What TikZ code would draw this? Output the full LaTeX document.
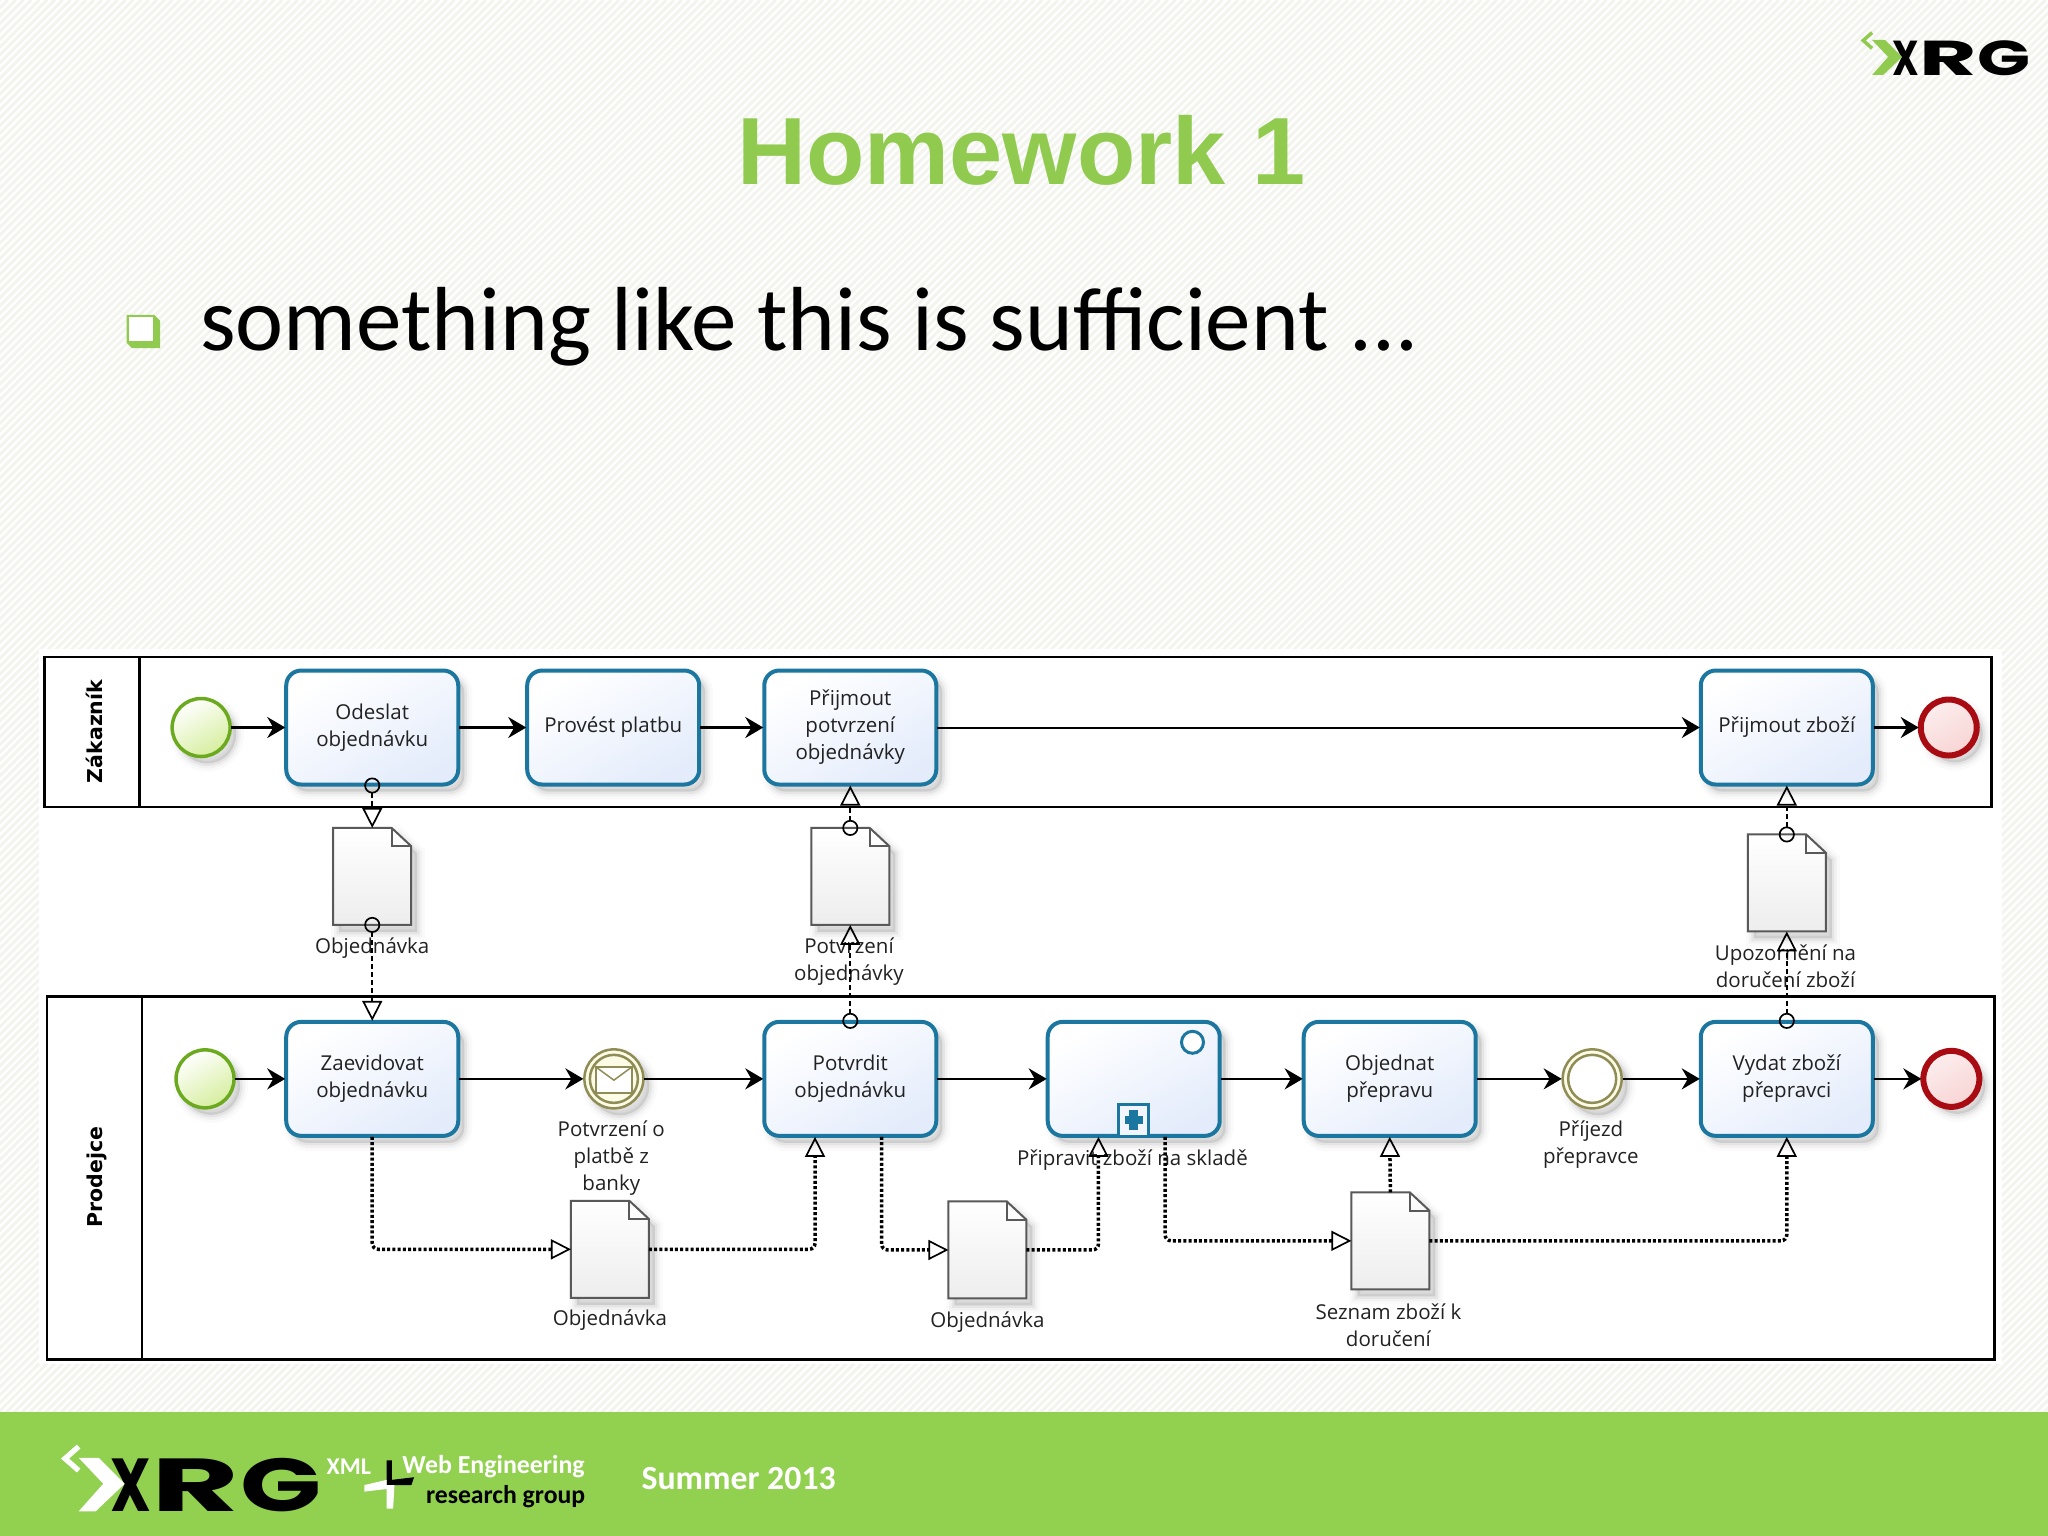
\documentclass[tikz,border=0pt]{standalone}
\usepackage{fontspec}
\usepackage{graphicx}
\setmainfont{Open Sans}
\newfontfamily\titlefont{Liberation Sans}
\newfontfamily\bodyfont{Carlito}
\newfontfamily\logofont{Poppins}
\newfontfamily\poolfont{DejaVu Sans}
\usetikzlibrary{arrows.meta,shadows,calc}
\definecolor{taskblue}{HTML}{1B76A0}
\definecolor{taskfill}{HTML}{E4ECFB}
\definecolor{startgreen}{HTML}{6BAA1E}
\definecolor{startfill}{HTML}{D6EE9E}
\definecolor{endred}{HTML}{A80C12}
\definecolor{endfill}{HTML}{F8D4D4}
\definecolor{olive}{HTML}{8F8D55}
\definecolor{olivefill}{HTML}{FBFBE6}
\definecolor{xrggreen}{HTML}{92D050}
\definecolor{titlegreen}{HTML}{90CB50}
\definecolor{hatch}{HTML}{F4F4EF}
\definecolor{labelink}{HTML}{222222}
\tikzset{
 softsh/.style={
  general shadow={fill=black,draw=black,line width=16pt,opacity=.02,shadow xshift=6pt,shadow yshift=-7pt},
  general shadow={fill=black,draw=black,line width=10pt,opacity=.03,shadow xshift=6pt,shadow yshift=-7pt},
  general shadow={fill=black,draw=black,line width=5pt,opacity=.05,shadow xshift=6pt,shadow yshift=-7pt}},
 taskbox/.style={rectangle,rounded corners=15pt,draw=taskblue,line width=4pt,top color=white,bottom color=taskfill,shading angle=30,
  minimum width=172pt,minimum height=114pt,align=center,softsh,text=labelink,inner sep=2pt,outer sep=1pt,
  font=\fontsize{20.5}{27}\selectfont},
 startev/.style={circle,draw=startgreen,line width=3.5pt,top color=white,bottom color=startfill,shading angle=30,minimum size=58pt,inner sep=0pt,outer sep=1pt,softsh},
 endev/.style={circle,draw=endred,line width=6pt,top color=endfill!40,bottom color=endfill,shading angle=30,minimum size=56pt,inner sep=0pt,outer sep=2pt,softsh},
 interev/.style={circle,draw=olive,line width=2.5pt,fill=olivefill,minimum size=59pt,inner sep=0pt,outer sep=1pt,softsh},
 innerring/.style={circle,draw=olive,line width=2.5pt,minimum size=48pt,inner sep=0pt},
 lab/.style={align=center,text=labelink,inner sep=0pt,font=\fontsize{20.5}{27}\selectfont},
 poolbox/.style={rectangle,draw=black,line width=2.5pt,fill=white,inner sep=0pt},
 poolname/.style={rotate=90,inner sep=0pt,font=\poolfont\bfseries\fontsize{20.5}{24}\selectfont},
 docanchor/.style={rectangle,minimum width=78pt,minimum height=97pt,inner sep=0pt,outer sep=0pt},
 docline/.style={draw=black!65,line width=2pt,top color=white,bottom color=black!7,softsh},
 foldline/.style={draw=black!65,line width=2pt},
 seq/.style={draw=black,line width=2.5pt,-{Stealth[length=18pt,width=21pt,inset=6pt]}},
 msgflow/.style={draw=black,line width=1.7pt,dash pattern=on 5pt off 3pt,{Circle[open,length=16pt,width=16pt]}-{Triangle[open,length=20pt,width=20pt]},shorten <=-8pt},
 assoc/.style={draw=black,line width=3.5pt,dash pattern=on 3pt off 2.2pt,rounded corners=6pt,-{Triangle[open,length=20pt,width=20pt,line width=1.7pt]}},
 footlab/.style={inner sep=0pt,anchor=west,font=\bodyfont\bfseries\fontsize{25.9}{25}\selectfont},
}
\newcommand\docnode[3]{%
 \node[docanchor] (#1) at (#2,#3) {};
 \path[docline] (#1.north west) -- ($(#1.north east)+(-15,0)$) -- ($(#1.north east)+(0,14)$) -- (#1.south east) -- (#1.south west) -- cycle;
 \path[foldline] ($(#1.north east)+(-15,0)$) -- ++(0,14) -- ++(15,0);
}
\newcommand\xrglogo[5]{% name, x, y, scale, chevron colour
 \begin{scope}[shift={(#2,#3)},scale=#4]
  \node[anchor=west,inner sep=0pt,text=black,xscale=#4,yscale=#4,font=\logofont\bfseries\fontsize{49}{49}\selectfont] (#1) at (25,20.5) {\scalebox{.76}[1]{X}\scalebox{1.8}[1]{R}\kern1pt\scalebox{1.42}[1]{G}};
  \fill[#5] (9.3,6.6) -- (19.3,6.6) -- (32.3,19.6) -- (17.8,33.4) -- (9.3,33.4) -- (21.6,19.6) -- cycle;
  \draw[#5,line width=3.5pt*#4] (9.3,1) -- (2.5,7) -- (9.3,13);
 \end{scope}
}
\begin{document}
\begin{tikzpicture}[x=1.30612pt,y=-1.30612pt]
\useasboundingbox (0,0) rectangle (1568,1176);
% hatched slide background
\fill[white] (0,0) rectangle (1568,1176);
\begin{scope}
 \clip (0,0) rectangle (1568,1176);
 \foreach \k in {0,6,...,2748} {\draw[hatch,line width=3pt] (\k,0) -- (\k-1176,1176);}
\end{scope}
\fill[white] (30,497) rectangle (1533,1044);
% footer
\fill[xrggreen] (0,1081) rectangle (1568,1176);
% title and body
\node[inner sep=0pt,text=titlegreen,font=\titlefont\bfseries\fontsize{95.5}{100}\selectfont] (title) at (782,115) {Homework 1};
\node[anchor=base west,inner sep=0pt,font=\bodyfont\fontsize{91}{94}\selectfont] (bodyline) at (153,268) {something like this is sufficient ...};
\fill[titlegreen] (97,241) -- (118,241) -- (122.5,245.5) -- (122.5,266.5) -- (101,266.5) -- (97,262.5) -- cycle;
\fill[white] (99,243) rectangle (117,261);
% logos
\xrglogo{logotop}{1424}{24}{1}{titlegreen}
\xrglogo{logofoot}{46}{1106}{1.53}{white}
\node[footlab,text=white,font=\bodyfont\bfseries\fontsize{24}{24}\selectfont] (xml) at (250,1123) {XML};
\node[footlab,text=white] (web) at (308,1123) {Web Engineering};
\node[footlab,text=black,font=\bodyfont\bfseries\fontsize{25.7}{25}\selectfont] (research) at (326,1146) {research group};
\fill[black] (296,1118) -- (300,1118) -- (300,1133) -- (317,1131) -- (315,1137) -- (296,1137) -- cycle;
\fill[white] (279,1137) -- (296,1133) -- (296,1137) -- (302,1137) -- (301,1155) -- (296,1155) -- (296,1140) -- (279,1142) -- cycle;
\node[footlab,text=white,font=\bodyfont\bfseries\fontsize{33.8}{33}\selectfont] (summer) at (491,1132) {Summer 2013};
% pools
\node[poolbox,minimum width=1947pt,minimum height=150pt] (pool1) at (779.5,560.5) {};
\node[poolbox,minimum width=95pt,minimum height=150pt] (head1) at (70.5,560.5) {};
\node[poolname] (name1) at (72,560) {Zákazník};
\node[poolbox,minimum width=1947pt,minimum height=363pt] (pool2) at (781.5,902) {};
\node[poolbox,minimum width=95pt,minimum height=363pt] (head2) at (72.5,902) {};
\node[poolname] (name2) at (74,901) {Prodejce};
% events
\node[startev] (start1) at (154,557) {};
\node[endev] (end1) at (1492,557) {};
\node[startev] (start2) at (157,826) {};
\node[endev] (end2) at (1494,826) {};
\node[interev] (msg) at (470,826) {};
\node[innerring] (msgring) at (470,826) {};
\node[rectangle,draw=olive,line width=1.5pt,fill=white,minimum width=36pt,minimum height=26pt,inner sep=0pt] (env) at (470,827) {};
\draw[olive,line width=1.5pt] (env.north west) -- (env.center) -- (env.north east);
\node[interev] (arrive) at (1219,826) {};
\node[innerring,fill=white] (arrivering) at (1219,826) {};
% tasks
\node[taskbox] (odeslat) at (285,557) {Odeslat\\objednávku};
\node[taskbox] (provest) at (469.5,557) {Provést platbu};
\node[taskbox] (prijmout) at (651,557) {Přijmout\\potvrzení\\objednávky};
\node[taskbox] (zbozi) at (1368,557) {Přijmout zboží};
\node[taskbox] (zaevid) at (285,826) {Zaevidovat\\objednávku};
\node[taskbox] (potvrdit) at (651,826) {Potvrdit\\objednávku};
\node[taskbox] (pripravit) at (868,826) {};
\node[taskbox] (objednat) at (1064,826) {Objednat\\přepravu};
\node[taskbox] (vydat) at (1368,826) {Vydat zboží\\přepravci};
% sub-process markers
\node[circle,draw=taskblue,line width=3pt,fill=white,minimum size=22pt,inner sep=0pt] (loopmark) at (913,798) {};
\node[rectangle,draw=taskblue,line width=3pt,fill=taskfill!50,minimum width=30pt,minimum height=32pt,inner sep=0pt] (plus) at (868,857.5) {};
\fill[taskblue] (864.5,850) rectangle (871.5,865);
\fill[taskblue] (861,854.5) rectangle (875,860.5);
% documents
\docnode{doca}{285}{671}
\docnode{docb}{651}{671}
\docnode{docc}{1368}{676}
\docnode{docd}{467}{956.5}
\docnode{doce}{756}{957}
\docnode{docf}{1064.5}{950}
% labels
\node[lab] (la) at (285,726) {Objednávka};
\node[lab] (lb) at (650,736) {Potvrzení\\objednávky};
\node[lab] (lc) at (1367,740) {Upozornění na\\doručení zboží};
\node[lab] (ld) at (468,887) {Potvrzení o\\platbě z\\banky};
\node[lab] (le) at (1218,876.5) {Příjezd\\přepravce};
\node[lab] (lf) at (867,888) {Připravit zboží na skladě};
\node[lab] (lg) at (467,1011) {Objednávka};
\node[lab] (lh) at (756,1012) {Objednávka};
\node[lab] (li) at (1063,1015) {Seznam zboží k\\doručení};
% sequence flows
\draw[seq] (start1) -- (odeslat);
\draw[seq] (odeslat) -- (provest);
\draw[seq] (provest) -- (prijmout);
\draw[seq,line width=2pt] (prijmout) -- (zbozi);
\draw[seq] (zbozi) -- (end1);
\draw[seq] (start2) -- (zaevid);
\draw[seq] (zaevid) -- (msg);
\draw[seq] (msg) -- (potvrdit);
\draw[seq] (potvrdit) -- (pripravit);
\draw[seq] (pripravit) -- (objednat);
\draw[seq] (objednat) -- (arrive);
\draw[seq] (arrive) -- (vydat);
\draw[seq] (vydat) -- (end2);
% message flows
\draw[msgflow] (odeslat.south) -- (doca.north);
\draw[msgflow] (doca.south) -- (zaevid.north);
\draw[msgflow] (docb.north) -- (prijmout.south);
\draw[msgflow] (potvrdit.north) -- (docb.south);
\draw[msgflow] (docc.north) -- (zbozi.south);
\draw[msgflow] (vydat.north) -- (docc.south);
% data associations
\draw[assoc] (zaevid.south) |- (docd.west);
\draw[assoc] (docd.east) -| ($(potvrdit.south)+(-27,0)$);
\draw[assoc] ($(potvrdit.south)+(24,0)$) |- (doce.west);
\draw[assoc] (doce.east) -| ($(pripravit.south)+(-27,0)$);
\draw[assoc] ($(pripravit.south)+(24,0)$) |- (docf.west);
\draw[assoc] (docf.north) -- (objednat.south);
\draw[assoc] (docf.east) -| (vydat.south);
\end{tikzpicture}
\end{document}
